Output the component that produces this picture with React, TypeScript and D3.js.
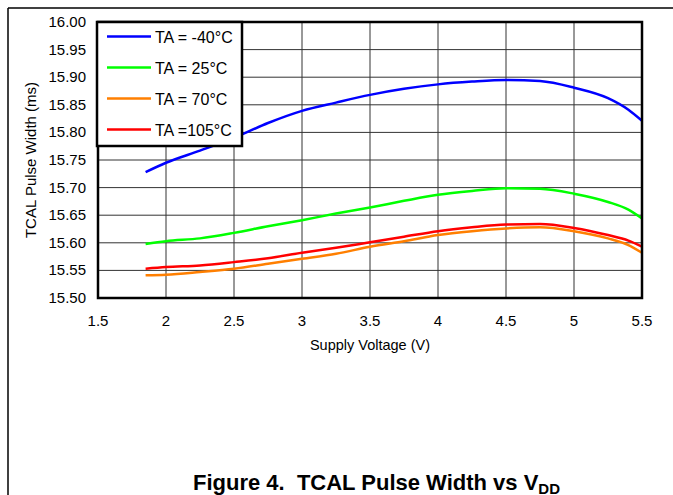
import React from "react";
import * as d3 from "d3";

const voltages = [1.85, 2.0, 2.25, 2.5, 2.75, 3.0, 3.25, 3.5, 3.75, 4.0, 4.25, 4.5, 4.75, 5.0, 5.25, 5.4, 5.5];
const tempMinus40 = [15.728, 15.745, 15.767, 15.790, 15.817, 15.839, 15.854, 15.868, 15.879, 15.887, 15.892, 15.895, 15.893, 15.881, 15.862, 15.841, 15.821];
const temp25 = [15.598, 15.603, 15.608, 15.618, 15.630, 15.641, 15.653, 15.664, 15.676, 15.687, 15.694, 15.699, 15.698, 15.689, 15.674, 15.660, 15.644];
const temp70 = [15.541, 15.542, 15.547, 15.553, 15.562, 15.571, 15.580, 15.593, 15.603, 15.614, 15.621, 15.626, 15.628, 15.621, 15.608, 15.596, 15.582];
const temp105 = [15.553, 15.556, 15.559, 15.565, 15.572, 15.582, 15.591, 15.601, 15.611, 15.621, 15.628, 15.633, 15.634, 15.627, 15.614, 15.604, 15.593];

const seriesNames = ["TA = -40°C", "TA = 25°C", "TA = 70°C", "TA =105°C"];
const seriesColors = ["#0000FF", "#00FF00", "#FF7F00", "#FF0000"];
const seriesValues = [tempMinus40, temp25, temp70, temp105];

const xTicks = [1.5, 2, 2.5, 3, 3.5, 4, 4.5, 5, 5.5];
const yTicks = [15.5, 15.55, 15.6, 15.65, 15.7, 15.75, 15.8, 15.85, 15.9, 15.95, 16.0];

export default function App() {
  const W = 673, H = 495;
  const left = 98, right = 642, top = 22, bottom = 298;
  const x = d3.scaleLinear().domain([1.5, 5.5]).range([left, right]);
  const y = d3.scaleLinear().domain([15.5, 16.0]).range([bottom, top]);
  const line = d3
    .line<[number, number]>()
    .x((d) => x(d[0]))
    .y((d) => y(d[1]))
    .curve(d3.curveMonotoneX);
  const font = "'Liberation Sans', Arial, sans-serif";

  return (
    <svg width={W} height={H} style={{ position: "absolute", left: 0, top: 0 }} fontFamily={font}>
      <rect x={0} y={0} width={W} height={H} fill="#fff" />
      {/* outer frame */}
      <line x1={8} y1={8} x2={W} y2={8} stroke="#000" strokeWidth={1.5} />
      <line x1={8} y1={8} x2={8} y2={H} stroke="#000" strokeWidth={1.5} />

      {/* grid */}
      {xTicks.map((t) => (
        <line key={"gx" + t} x1={x(t)} x2={x(t)} y1={top} y2={bottom} stroke="#333" strokeWidth={1} />
      ))}
      {yTicks.map((t) => (
        <line key={"gy" + t} x1={left} x2={right} y1={y(t)} y2={y(t)} stroke="#333" strokeWidth={1} />
      ))}

      {/* series */}
      {seriesValues.map((vals, i) => (
        <path
          key={"s" + i}
          d={line(voltages.map((v, j) => [v, vals[j]] as [number, number])) || ""}
          fill="none"
          stroke={seriesColors[i]}
          strokeWidth={2.5}
        />
      ))}

      {/* plot border */}
      <rect x={left} y={top} width={right - left} height={bottom - top} fill="none" stroke="#000" strokeWidth={2.5} />

      {/* tick labels */}
      {yTicks.map((t) => (
        <text key={"ty" + t} x={86} y={y(t) + 5} textAnchor="end" fontSize={15} fill="#000">
          {t.toFixed(2)}
        </text>
      ))}
      {xTicks.map((t) => (
        <text key={"tx" + t} x={x(t)} y={326} textAnchor="middle" fontSize={15} fill="#000">
          {String(t)}
        </text>
      ))}

      {/* axis titles */}
      <text x={370} y={350} textAnchor="middle" fontSize={14.5} fill="#000">
        Supply Voltage (V)
      </text>
      <text transform={`translate(36,160) rotate(-90)`} textAnchor="middle" fontSize={15} fill="#000">
        TCAL Pulse Width (ms)
      </text>

      {/* legend */}
      <rect x={97} y={22} width={145} height={124} fill="#fff" stroke="#000" strokeWidth={2.5} />
      {seriesNames.map((n, i) => {
        const ry = 36.5 + i * 31;
        return (
          <g key={"lg" + i}>
            <line x1={107} x2={151} y1={ry} y2={ry} stroke={seriesColors[i]} strokeWidth={2.5} />
            <text x={155} y={ry + 6} fontSize={16} fill="#000">
              {n}
            </text>
          </g>
        );
      })}

      {/* figure title */}
      <text x={193} y={489.5} fontSize={22} fontWeight="bold" fill="#000" xmlSpace="preserve">
        {"Figure 4.  TCAL Pulse Width vs V"}
        <tspan fontSize={15} dy={4}>DD</tspan>
      </text>
    </svg>
  );
}
